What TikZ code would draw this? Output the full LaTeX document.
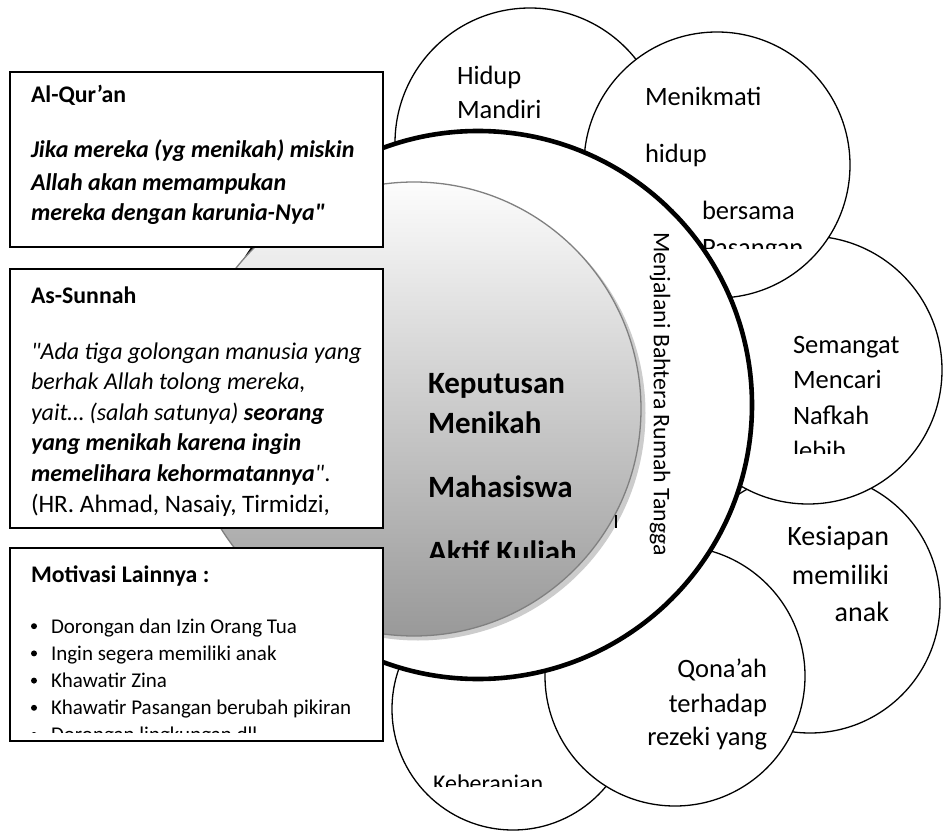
\documentclass[tikz,border=0pt]{standalone}
\usepackage{fontspec}
\setmainfont{Carlito}
\newcommand{\fs}[2]{\fontsize{#1}{#2}\selectfont}

\begin{document}
\begin{tikzpicture}[x=1pt, y=-1pt,
  every node/.style={inner sep=0pt, outer sep=0pt},
  bubble/.style={draw, circle, fill=white, line width=1.3pt},
  btxt/.style={font=\fs{26.5}{32}, anchor=base west},
  rtxt/.style={font=\fs{26.5}{32}, anchor=base east},
  card/.style={draw, fill=white, line width=1.6pt, anchor=north west,
               minimum width=373pt},
  hd/.style={font=\fs{23.8}{28}\bfseries, anchor=base west},
  qbody/.style={font=\fs{24}{30}\bfseries\itshape, anchor=base west},
  sbody/.style={font=\fs{24}{30}\itshape, anchor=base west},
  item/.style={font=\fs{21}{26}, anchor=base west},
  dot/.style={circle, fill=black, minimum size=6pt},
  core/.style={font=\fs{31}{36}\bfseries, anchor=base west}
]
\useasboundingbox[fill=white] (0,0) rectangle (943,832);

% outer bubbles
\node[bubble, minimum size=270pt] (hidup) at (530,143) {};
\node[btxt] (hidup1) at (457,85)  {Hidup};
\node[btxt] (hidup2) at (457,119) {Mandiri};

\node[bubble, minimum size=260pt] (siap) at (810,603) {};
\node[rtxt, font=\fs{28}{32}] (siap1) at (889,545) {Kesiapan};
\node[rtxt, font=\fs{28}{32}] (siap2) at (889,584) {memiliki};
\node[rtxt, font=\fs{28}{32}] (siap3) at (889,621) {anak};

\node[bubble, minimum size=268pt] (semangat) at (808,370) {};
\begin{scope}
  \clip (760,300) rectangle (943,453);
  \node[btxt] (sem1) at (793,353) {Semangat};
  \node[btxt] (sem2) at (793,388) {Mencari};
  \node[btxt] (sem3) at (793,424) {Nafkah};
  \node[btxt] (sem4) at (793,459) {lebih};
\end{scope}

\node[bubble, minimum size=266pt] (nikmat) at (717,165) {};
\begin{scope}
  \clip (640,60) rectangle (850,248);
  \node[btxt] (nik1) at (645,106) {Menikmati};
  \node[btxt] (nik2) at (645,163) {hidup};
  \node[btxt] (nik3) at (702,219) {bersama};
  \node[btxt] (nik4) at (702,256) {Pasangan};
\end{scope}

\node[bubble, minimum size=242pt] (berani) at (513,709) {};
\begin{scope}
  \clip (420,740) rectangle (600,786);
  \node[btxt, font=\fs{24}{28}] (berani1) at (433,791) {Keberanian};
\end{scope}

\node[bubble, minimum size=260pt] (qonaah) at (675,676) {};
\node[rtxt] (qon1) at (767,677) {Qona’ah};
\node[rtxt] (qon2) at (767,712) {terhadap};
\node[rtxt] (qon3) at (767,745) {rezeki yang};

% main ring and core
\node[circle, draw, fill=white, line width=4.6pt, minimum size=548pt] (ring) at (478,405) {};
\node[circle, fill=black!20, minimum size=455pt] (coreshade) at (418,413) {};
\node[circle, draw=black!50, line width=1.3pt, top color=black!1,
      bottom color=black!40, minimum size=454pt] (coreball) at (414,409) {};

\begin{scope}
  \clip (420,350) rectangle (574,557);
  \node[core] (kep1) at (428,393) {Keputusan};
  \node[core] (kep2) at (428,433) {Menikah};
  \node[core] (kep3) at (428,497) {Mahasiswa};
  \node[core] (kep4) at (428,562) {Aktif Kuliah};
\end{scope}

\node[font=\fs{23.8}{28}, rotate=-90] (bahtera) at (660,394) {Menjalani Bahtera Rumah Tangga};
\draw[line width=2.2pt] (616,515) -- (616,528);

% source cards
\node[card, minimum height=175pt] (quran) at (10,72) {};
\node[hd] (quran0) at (31,103) {Al-Qur’an};
\node[qbody] (quran1) at (31,158) {Jika mereka (yg menikah) miskin};
\node[qbody] (quran2) at (31,190) {Allah akan memampukan};
\node[qbody] (quran3) at (31,221) {mereka dengan karunia-Nya\textquotedbl};

\node[card, minimum height=259pt] (sunnah) at (10,269) {};
\node[hd] (sunnah0) at (31,303) {As-Sunnah};
\node[sbody] (sunnah1) at (31,359) {\textquotedbl Ada tiga golongan manusia yang};
\node[sbody] (sunnah2) at (31,389.6) {berhak Allah tolong mereka,};
\node[sbody] (sunnah3) at (31,420.2) {yait… (salah satunya) \textbf{seorang}};
\node[sbody] (sunnah4) at (31,450.8) {\textbf{yang menikah karena ingin}};
\node[sbody] (sunnah5) at (31,481.4) {\textbf{memelihara kehormatannya}\textquotedbl\upshape.};
\node[sbody, font=\fs{25.1}{30}] (sunnah6) at (31,512) {(HR. Ahmad, Nasaiy, Tirmidzi,};

\node[card, minimum height=193pt] (lain) at (10,548) {};
\node[hd] (lain0) at (31,582) {Motivasi Lainnya :};
\begin{scope}
  \clip (12,590) rectangle (380,732);
  \foreach \t [count=\i] in {Dorongan dan Izin Orang Tua, Ingin segera memiliki anak,
      Khawatir Zina, Khawatir Pasangan berubah pikiran, Dorongan lingkungan dll}{
    \node[dot] (b\i) at (34,{633+27.2*(\i-1)-6.8}) {};
    \node[item] (m\i) at (51,{633+27.2*(\i-1)}) {\t};
  }
\end{scope}
\end{tikzpicture}
\end{document}
